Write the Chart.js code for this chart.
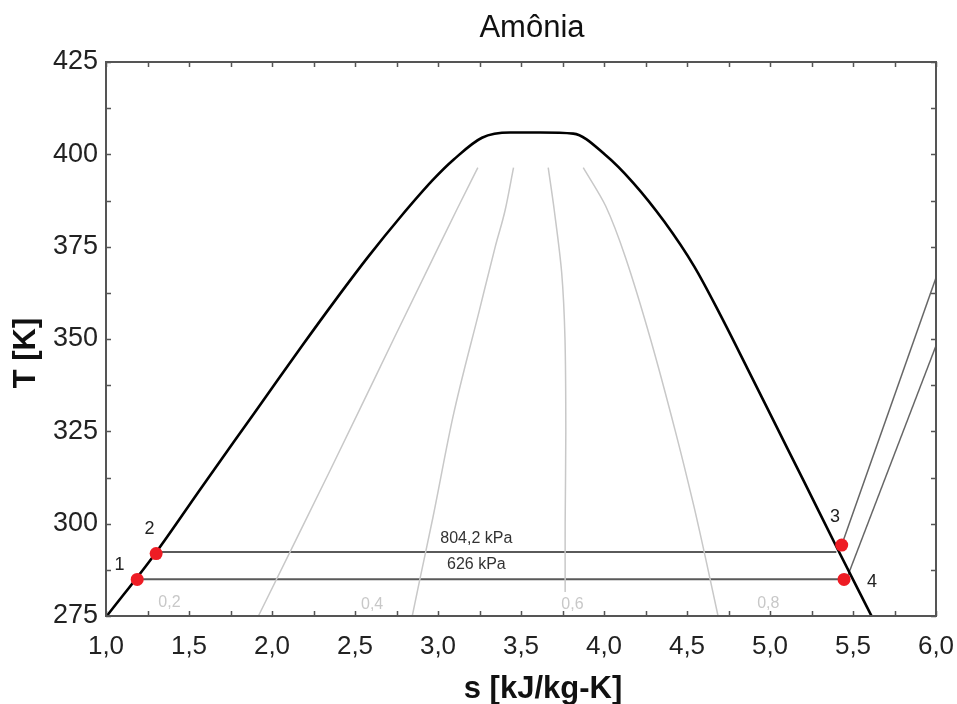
<!DOCTYPE html>
<html>
<head>
<meta charset="utf-8">
<title>Amônia</title>
<script src="https://cdn.jsdelivr.net/npm/chart.js@4.4.1/dist/chart.umd.min.js"></script>
<style>
  html, body { margin: 0; padding: 0; background: #fff; }
  canvas { display: block; }
</style>
</head>
<body>
<canvas id="ts" width="957" height="704"></canvas>
<script>
const chartTitle = "Amônia";
const xTitle = "s [kJ/kg-K]";
const yTitle = "T [K]";
const xTicks = [1.0, 1.5, 2.0, 2.5, 3.0, 3.5, 4.0, 4.5, 5.0, 5.5, 6.0];
const yTicks = [275, 300, 325, 350, 375, 400, 425];

// curva de saturação (líquido + vapor)
const domeS = [1.005, 1.295, 1.565, 1.766, 1.962, 2.177, 2.383, 2.580, 2.775, 2.972, 3.095, 3.265, 3.435, 3.616, 3.815, 4.007, 4.176, 4.363, 4.544, 4.700, 4.862, 5.031, 5.206, 5.404, 5.615];
const domeT = [275, 291.8, 309.1, 321.9, 334.3, 347.9, 360.6, 372.3, 383.1, 393.2, 398.6, 404.5, 405.9, 405.9, 405.6, 399.9, 392.3, 381.8, 369.6, 356.6, 342.2, 327.0, 311.3, 293.4, 274.7];

// linhas de título constante
const q02S = [1.918, 2.108, 2.352, 2.527, 2.733, 3.004, 3.113, 3.24];
const q02T = [275, 292.3, 314.6, 330.8, 350, 375, 385, 396.4];
const q04S = [2.845, 2.89, 2.97, 3.09, 3.25, 3.345, 3.405, 3.455];
const q04T = [275, 284.8, 301.8, 328.9, 357.9, 375, 385, 396.4];
const q06S = [3.766, 3.766, 3.770, 3.765, 3.745, 3.70, 3.664];
const q06T = [281.5, 300, 325, 350, 368, 385, 396.4];
const q08S = [4.687, 4.615, 4.540, 4.43, 4.28, 4.13, 4.01, 3.875];
const q08T = [275, 290, 305, 325, 350, 372, 386, 396.4];
const qualityNames = ["0,2", "0,4", "0,6", "0,8"];
const qualityLabelS = [1.382, 2.603, 3.810, 4.990];
const qualityLabelT = [278.5, 278.0, 278.0, 278.4];

// isobáricas
const isobarNames = ["804,2 kPa", "626 kPa"];
const isobarT = [292.3, 284.95];
const isobarS0 = [1.30, 1.19];
const isobarS1 = [5.40, 5.42];
const isobarLabelS = [3.231, 3.231];
const isobarLabelT = [296.05, 288.8];
const sh804S = [5.432, 6.0];
const sh804T = [294.2, 366.6];
const sh626S = [5.46, 6.0];
const sh626T = [284.9, 348.2];

// estados do ciclo
const stateNames = ["1", "2", "3", "4"];
const stateS = [1.188, 1.302, 5.432, 5.446];
const stateT = [284.9, 291.9, 294.2, 284.9];
const stateLabelS = [1.081, 1.262, 5.392, 5.615];
const stateLabelT = [288.8, 298.6, 301.8, 284.2];

const FONT = '"Liberation Sans", Arial, sans-serif';
const pts = (xs, ys) => xs.map((x, i) => ({ x: x, y: ys[i] }));

// --- textos e moldura desenhados via escalas ---
const decorPlugin = {
  id: "decor",
  afterDraw(chart) {
    const ctx = chart.ctx;
    const xs = chart.scales.x, ys = chart.scales.y;
    const a = chart.chartArea;
    ctx.save();

    // textos no gráfico
    ctx.textAlign = "center";
    ctx.textBaseline = "middle";
    ctx.fillStyle = "#c8c8c8";
    ctx.font = "16px " + FONT;
    qualityNames.forEach((t, i) => {
      ctx.fillText(t, xs.getPixelForValue(qualityLabelS[i]), ys.getPixelForValue(qualityLabelT[i]));
    });
    ctx.fillStyle = "#333";
    isobarNames.forEach((t, i) => {
      ctx.fillText(t, xs.getPixelForValue(isobarLabelS[i]), ys.getPixelForValue(isobarLabelT[i]));
    });
    ctx.fillStyle = "#222";
    ctx.font = "18px " + FONT;
    stateNames.forEach((t, i) => {
      ctx.fillText(t, xs.getPixelForValue(stateLabelS[i]), ys.getPixelForValue(stateLabelT[i]));
    });

    // moldura e marcas internas
    ctx.strokeStyle = "#555";
    ctx.lineWidth = 1.5;
    ctx.beginPath();
    for (let v = 1; v <= 6.0001; v += 0.25) {
      const px = Math.round(xs.getPixelForValue(v)) + 0.5;
      ctx.moveTo(px, a.bottom); ctx.lineTo(px, a.bottom - 5);
      ctx.moveTo(px, a.top); ctx.lineTo(px, a.top + 5);
    }
    for (let v = 275; v <= 425.001; v += 12.5) {
      const py = Math.round(ys.getPixelForValue(v)) + 0.5;
      ctx.moveTo(a.left, py); ctx.lineTo(a.left + 5, py);
      ctx.moveTo(a.right, py); ctx.lineTo(a.right - 5, py);
    }
    ctx.stroke();
    ctx.lineWidth = 2;
    ctx.strokeRect(a.left, a.top, a.right - a.left, a.bottom - a.top);

    // títulos
    ctx.fillStyle = "#111";
    ctx.textBaseline = "alphabetic";
    ctx.font = "31px " + FONT;
    ctx.fillText(chartTitle, 532, 37);
    ctx.font = "bold 31px " + FONT;
    ctx.fillText(xTitle, 543, 698);
    ctx.translate(35, 353);
    ctx.rotate(-Math.PI / 2);
    ctx.fillText(yTitle, 0, 0);
    ctx.restore();
  }
};

const line = (data, color, width, tension, mono) => ({
  data: data, borderColor: color, borderWidth: width, pointRadius: 0,
  fill: false, tension: tension, showLine: true,
  cubicInterpolationMode: mono ? "monotone" : "default"
});

const datasets = [
  { data: pts(stateS, stateT), showLine: false, pointRadius: 6.5, pointHoverRadius: 6.5,
    pointBackgroundColor: "#ee1c24", pointBorderWidth: 0, borderColor: "#ee1c24" },
  line(pts(domeS, domeT), "#000", 2.6, 0.4, true),
  line(pts(q02S, q02T), "#c8c8c8", 1.5, 0.4, true),
  line(pts(q04S, q04T), "#c8c8c8", 1.5, 0.4, true),
  line(pts(q06S, q06T), "#c8c8c8", 1.5, 0.3, false),
  line(pts(q08S, q08T), "#c8c8c8", 1.5, 0.3, false),
  line(pts([isobarS0[0], isobarS1[0]], [isobarT[0], isobarT[0]]), "#5a5a5a", 2, 0),
  line(pts([isobarS0[1], isobarS1[1]], [isobarT[1], isobarT[1]]), "#5a5a5a", 2, 0),
  line(pts(sh804S, sh804T), "#666", 1.5, 0),
  line(pts(sh626S, sh626T), "#666", 1.5, 0)
];

new Chart(document.getElementById("ts"), {
  type: "scatter",
  data: { datasets: datasets },
  options: {
    responsive: false,
    animation: false,
    layout: { padding: { top: 62, right: 21, left: 0, bottom: 0 } },
    plugins: { legend: { display: false }, tooltip: { enabled: false }, title: { display: false } },
    scales: {
      x: {
        type: "linear", min: 1, max: 6,
        afterFit: (s) => { s.height = 88; s.paddingLeft = 0; s.paddingRight = 0; },
        afterBuildTicks: (s) => { s.ticks = xTicks.map(v => ({ value: v })); },
        grid: { display: false, drawTicks: false },
        border: { display: false },
        ticks: {
          padding: 15, color: "#222", font: { family: FONT, size: 26 },
          callback: (v) => Number(v).toFixed(1).replace(".", ",")
        }
      },
      y: {
        type: "linear", min: 275, max: 425,
        afterFit: (s) => { s.width = 106; s.paddingTop = 0; s.paddingBottom = 0; },
        afterBuildTicks: (s) => { s.ticks = yTicks.map(v => ({ value: v })); },
        grid: { display: false, drawTicks: false },
        border: { display: false },
        ticks: { padding: 8, color: "#222", font: { family: FONT, size: 27 } }
      }
    }
  },
  plugins: [decorPlugin]
});
</script>
</body>
</html>
